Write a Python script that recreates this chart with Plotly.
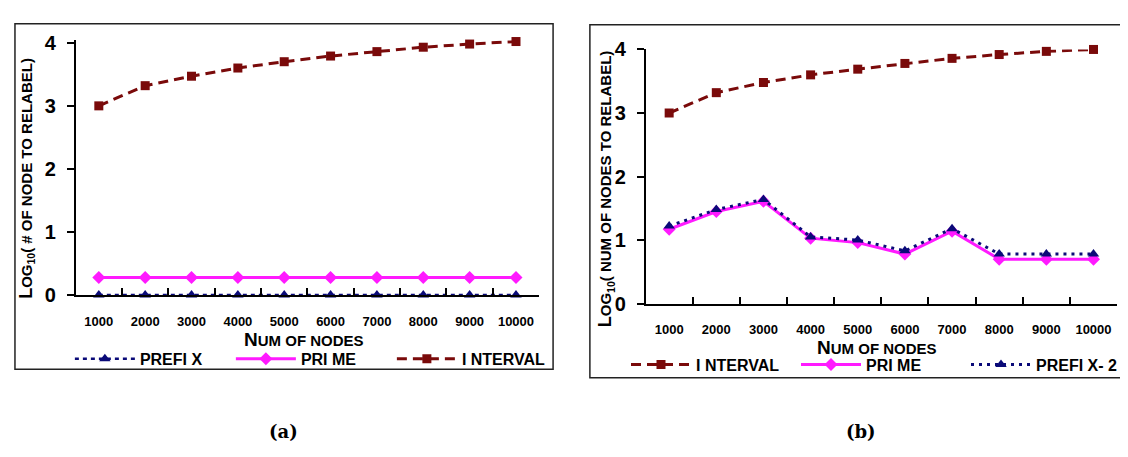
import plotly.graph_objects as go

categories = ["1000", "2000", "3000", "4000", "5000", "6000", "7000", "8000", "9000", "10000"]

# panel (a)
a_prefix = [0, 0, 0, 0, 0, 0, 0, 0, 0, 0]
a_prime = [0.28, 0.28, 0.28, 0.28, 0.28, 0.28, 0.28, 0.28, 0.28, 0.28]
a_interval = [3.0, 3.32, 3.47, 3.6, 3.7, 3.79, 3.86, 3.93, 3.98, 4.02]

# panel (b)
b_interval = [3.0, 3.32, 3.48, 3.6, 3.69, 3.78, 3.86, 3.92, 3.97, 4.0]
b_prime = [1.17, 1.45, 1.61, 1.03, 0.96, 0.78, 1.14, 0.7, 0.7, 0.7]
b_prefix2 = [1.22, 1.48, 1.64, 1.05, 1.0, 0.83, 1.18, 0.78, 0.78, 0.78]

y_ticks = [0, 1, 2, 3, 4]

W, H = 1128, 457
NAVY = "#0a0a78"
MAG = "#ff1aff"
RED = "#7a0a0a"
FONT = "Liberation Sans"

def px(x):
    return x / W

def py(y):
    return 1 - y / H

fig = go.Figure()

# ---- panel (a)
fig.add_trace(go.Scatter(x=categories, y=a_prefix, name="PREFI X", mode="lines+markers",
                         line=dict(color=NAVY, width=2.5, dash="4px,4px"),
                         marker=dict(symbol="triangle-up", size=10, color=NAVY),
                         xaxis="x", yaxis="y", legend="legend", cliponaxis=False))
fig.add_trace(go.Scatter(x=categories, y=a_prime, name="PRI ME", mode="lines+markers",
                         line=dict(color=MAG, width=3),
                         marker=dict(symbol="diamond", size=10, color=MAG),
                         xaxis="x", yaxis="y", legend="legend", cliponaxis=False))
fig.add_trace(go.Scatter(x=categories, y=a_interval, name="I NTERVAL", mode="lines+markers",
                         line=dict(color=RED, width=3, dash="10px,6px"),
                         marker=dict(symbol="square", size=9, color=RED),
                         xaxis="x", yaxis="y", legend="legend", cliponaxis=False))

# ---- panel (b)
fig.add_trace(go.Scatter(x=categories, y=b_interval, name="I NTERVAL", mode="lines+markers",
                         line=dict(color=RED, width=3, dash="10px,6px"),
                         marker=dict(symbol="square", size=9, color=RED),
                         xaxis="x2", yaxis="y2", legend="legend2", cliponaxis=False))
fig.add_trace(go.Scatter(x=categories, y=b_prime, name="PRI ME", mode="lines+markers",
                         line=dict(color=MAG, width=3),
                         marker=dict(symbol="diamond", size=10, color=MAG),
                         xaxis="x2", yaxis="y2", legend="legend2", cliponaxis=False))
fig.add_trace(go.Scatter(x=categories, y=b_prefix2, name="PREFI X- 2", mode="lines+markers",
                         line=dict(color=NAVY, width=3, dash="3px,5px"),
                         marker=dict(symbol="triangle-up", size=10, color=NAVY),
                         xaxis="x2", yaxis="y2", legend="legend2", cliponaxis=False))

def xax(standoff):
    return dict(type="category", tickson="boundaries", showline=True, linecolor="black",
                linewidth=1.5, ticks="inside", ticklen=7, tickcolor="black", tickwidth=1.5,
                showgrid=False, zeroline=False, fixedrange=True, tickangle=0,
                tickfont=dict(family=FONT, size=13, color="black", weight="bold"),
                ticklabelstandoff=standoff, range=[-0.5, 9.5])

def yax(top):
    return dict(range=[0, top], tickvals=y_ticks, showline=True, linecolor="black", linewidth=1.5,
                ticks="outside", ticklen=7, tickcolor="black", tickwidth=1.5, showgrid=False,
                zeroline=False, fixedrange=True,
                tickfont=dict(family=FONT, size=20, color="black", weight="bold"),
                ticklabelstandoff=7)

top_a = 4.04
fig.update_layout(
    width=W, height=H, margin=dict(l=0, r=0, t=0, b=0),
    paper_bgcolor="white", plot_bgcolor="white",
    xaxis=dict(domain=[px(68), px(534)], anchor="y", **xax(14)),
    yaxis=dict(domain=[py(290), py(25 - 0.04 * 66.25)], anchor="x", **yax(top_a)),
    xaxis2=dict(domain=[px(641), px(1115)], anchor="y2", **xax(13)),
    yaxis2=dict(domain=[py(299), py(32)], anchor="x2", **yax(4)),
    legend=dict(orientation="h", x=px(305), xanchor="center", y=py(357), yanchor="middle",
                font=dict(family=FONT, size=16, color="black", weight="bold"),
                entrywidth=86, bgcolor="rgba(0,0,0,0)", itemwidth=60),
    legend2=dict(orientation="h", x=px(878), xanchor="center", y=py(363), yanchor="middle",
                 font=dict(family=FONT, size=16, color="black", weight="bold"),
                 entrywidth=95, bgcolor="rgba(0,0,0,0)", itemwidth=60),
    showlegend=True,
)

# panel borders
fig.add_shape(type="rect", xref="paper", yref="paper", x0=px(7), x1=px(548), y0=py(368), y1=py(5),
              line=dict(color="#222", width=1.5))
fig.add_shape(type="rect", xref="paper", yref="paper", x0=px(585), x1=px(1126), y0=py(377), y1=py(6),
              line=dict(color="#222", width=1.5))

# axis titles
def title_txt(first, rest, big, small):
    return f"<b><span style='font-size:{big}px'>{first}</span><span style='font-size:{small}px'>{rest}</span></b>"

fig.add_annotation(xref="paper", yref="paper", x=px(298), y=py(337), xanchor="center", yanchor="middle",
                   showarrow=False, text=title_txt("N", "UM OF NODES", 19, 15),
                   font=dict(family=FONT, color="black"))
fig.add_annotation(xref="paper", yref="paper", x=px(874), y=py(345), xanchor="center", yanchor="middle",
                   showarrow=False, text=title_txt("N", "UM OF NODES", 19, 15),
                   font=dict(family=FONT, color="black"))
fig.add_annotation(xref="paper", yref="paper", x=px(19), y=py(167), xanchor="center", yanchor="middle",
                   showarrow=False, textangle=-90,
                   text="<b>L<span style='font-size:15px'>OG<sub>10</sub>( # OF NODE TO RELABEL)</span></b>",
                   font=dict(family=FONT, size=18, color="black"))
fig.add_annotation(xref="paper", yref="paper", x=px(601), y=py(178), xanchor="center", yanchor="middle",
                   showarrow=False, textangle=-90,
                   text="<b>L<span style='font-size:15px'>OG<sub>10</sub>( NUM OF NODES TO RELABEL)</span></b>",
                   font=dict(family=FONT, size=18, color="black"))

# captions
fig.add_annotation(xref="paper", yref="paper", x=px(277), y=py(433), xanchor="center", yanchor="middle",
                   showarrow=False, text="<b>(a)</b>", font=dict(family="DejaVu Serif", size=18, color="black"))
fig.add_annotation(xref="paper", yref="paper", x=px(858), y=py(433), xanchor="center", yanchor="middle",
                   showarrow=False, text="<b>(b)</b>", font=dict(family="DejaVu Serif", size=18, color="black"))

fig.write_html("out.html")
